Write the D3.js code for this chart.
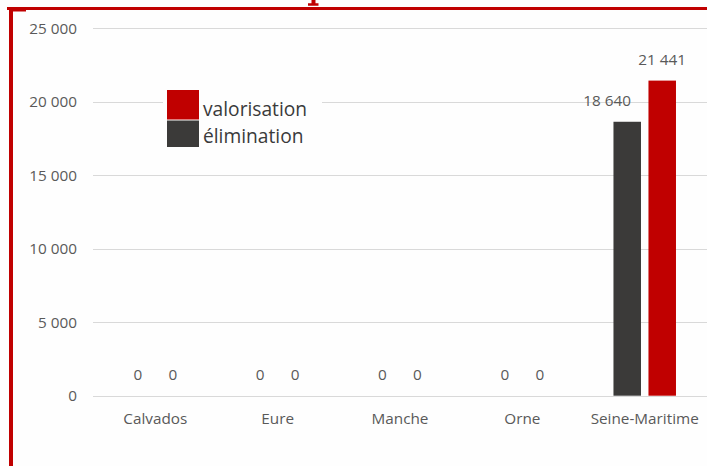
<!DOCTYPE html>
<html lang="fr">
<head>
  <meta charset="UTF-8">
  <title>Valorisation / élimination par département</title>
  <script src="https://d3js.org/d3.v7.min.js"></script>
  <style>
    body {
      margin: 0;
      background: #fefefe;
      font-family: "Open Sans", sans-serif;
    }
    svg { display: block; }
    .grid line { stroke: #d9d9d9; stroke-width: 1px; }
    .tick-label, .cat-label, .val-label { fill: #595959; font-size: 15.3px; }
    .legend-label { fill: #3a3a3a; font-size: 19.2px; }
  </style>
</head>
<body>
  <svg id="chart" width="707" height="466"></svg>

  <script>
    const categories = ['Calvados', 'Eure', 'Manche', 'Orne', 'Seine-Maritime'];
    const seriesNames = ['élimination', 'valorisation'];
    const elimination = [0, 0, 0, 0, 18640];
    const valorisation = [0, 0, 0, 0, 21441];
    const yTicks = [0, 5000, 10000, 15000, 20000, 25000];
    const colors = { 'élimination': '#3b3a39', 'valorisation': '#c00000' };

    const width = 707, height = 466;
    const svg = d3.select('#chart');

    // french style thousands: "25 000"
    const fmt = d => d3.format(',')(d).replace(/,/g, ' ');

    const x0 = d3.scaleBand().domain(categories).range([94.1, 705.9]).padding(0);
    const x1 = d3.scaleBand().domain(seriesNames).range([0, x0.bandwidth()])
      .paddingInner(0.214).paddingOuter(0.855);
    const y = d3.scaleLinear().domain([0, 25000]).range([395.7, 28.3]);

    // red frame (top + left) left over from the page layout
    svg.append('rect').attr('x', 7).attr('y', 7).attr('width', width - 7).attr('height', 3).attr('fill', '#c00000');
    svg.append('rect').attr('x', 9).attr('y', 7).attr('width', 4).attr('height', height - 7).attr('fill', '#c00000');
    svg.append('rect').attr('x', 13).attr('y', 10).attr('width', 13).attr('height', 1.5).attr('fill', '#c00000');
    // bottom of a title glyph cut off by the top edge
    svg.append('path').attr('fill', '#c00000')
      .attr('d', 'M311.5,0 H315.5 V3.3 H318.5 V5.8 H308 V3.3 H311.5 Z');

    // gridlines
    svg.append('g').attr('class', 'grid')
      .selectAll('line').data(yTicks).enter().append('line')
      .attr('x1', 93).attr('x2', width)
      .attr('y1', d => Math.round(y(d)) + 0.5).attr('y2', d => Math.round(y(d)) + 0.5);

    // y tick labels
    svg.append('g').selectAll('text').data(yTicks).enter().append('text')
      .attr('class', 'tick-label')
      .attr('x', 77).attr('y', d => y(d)).attr('dy', '0.35em')
      .attr('text-anchor', 'end')
      .text(fmt);

    // category labels
    svg.append('g').selectAll('text').data(categories).enter().append('text')
      .attr('class', 'cat-label')
      .attr('x', d => x0(d) + x0.bandwidth() / 2).attr('y', 423.5)
      .attr('text-anchor', 'middle')
      .text(d => d);

    const rows = categories.map((c, i) => ({
      cat: c,
      values: [
        { key: 'élimination', value: elimination[i] },
        { key: 'valorisation', value: valorisation[i] }
      ]
    }));

    const groups = svg.append('g').selectAll('g').data(rows).enter().append('g')
      .attr('transform', d => `translate(${x0(d.cat)},0)`);

    groups.selectAll('rect').data(d => d.values).enter().append('rect')
      .attr('x', d => x1(d.key))
      .attr('width', x1.bandwidth())
      .attr('y', d => y(d.value))
      .attr('height', d => y(0) - y(d.value))
      .attr('fill', d => colors[d.key]);

    // value labels (the 18 640 label sits a bit left of its bar)
    groups.selectAll('text').data(d => d.values).enter().append('text')
      .attr('class', 'val-label')
      .attr('x', d => x1(d.key) + x1.bandwidth() / 2 + (d.value === 18640 ? -20 : 0))
      .attr('y', d => y(d.value) - 15.5)
      .attr('text-anchor', 'middle')
      .text(d => fmt(d.value));

    // legend
    const legend = svg.append('g');
    legend.append('rect').attr('x', 163).attr('y', 88).attr('width', 159).attr('height', 62).attr('fill', '#fefefe');
    const legendItems = ['valorisation', 'élimination'];
    legend.selectAll('rect.key').data(legendItems).enter().append('rect')
      .attr('class', 'key')
      .attr('x', 167).attr('y', (d, i) => 90 + i * 30.5)
      .attr('width', 32).attr('height', (d, i) => i ? 26.5 : 29.5)
      .attr('fill', d => colors[d]);
    legend.selectAll('text').data(legendItems).enter().append('text')
      .attr('class', 'legend-label')
      .attr('x', 203).attr('y', (d, i) => 115.5 + i * 27.5)
      .text(d => d);
  </script>
</body>
</html>
